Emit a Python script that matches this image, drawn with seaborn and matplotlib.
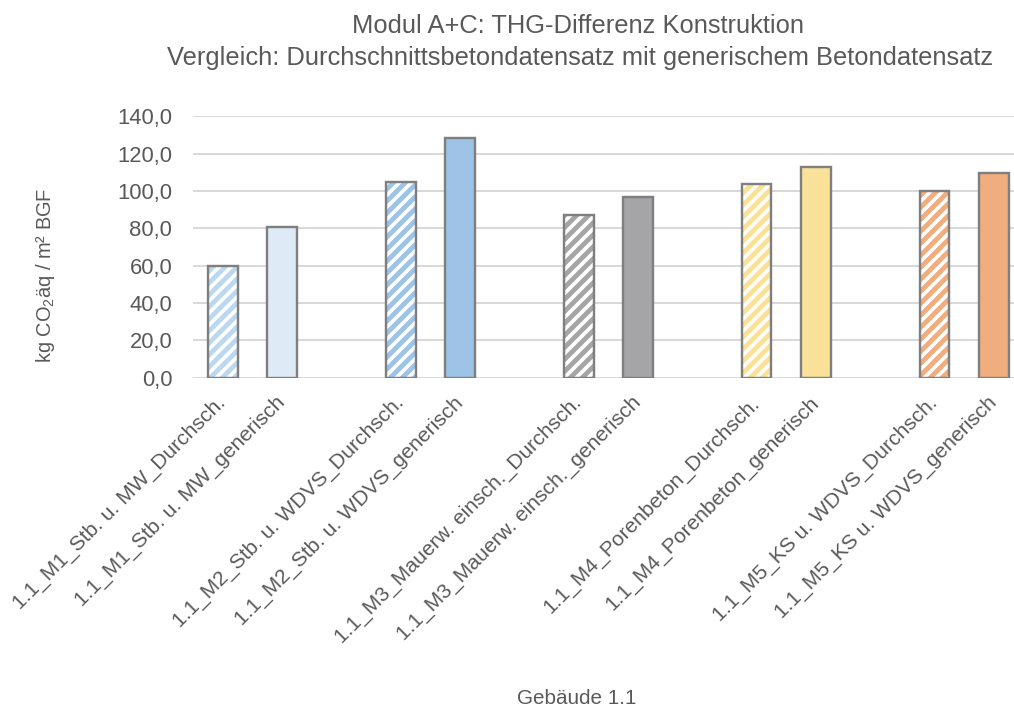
import numpy as np
import pandas as pd
import matplotlib
matplotlib.use("Agg")
import matplotlib.pyplot as plt
import seaborn as sns

# Werte (kg CO2äq / m² BGF)
labels = [
    "1.1_M1_Stb. u. MW_Durchsch.", "1.1_M1_Stb. u. MW_generisch",
    "1.1_M2_Stb. u. WDVS_Durchsch.", "1.1_M2_Stb. u. WDVS_generisch",
    "1.1_M3_Mauerw. einsch._Durchsch.", "1.1_M3_Mauerw. einsch._generisch",
    "1.1_M4_Porenbeton_Durchsch.", "1.1_M4_Porenbeton_generisch",
    "1.1_M5_KS u. WDVS_Durchsch.", "1.1_M5_KS u. WDVS_generisch",
]
values = [60.0, 80.7, 104.8, 128.3, 87.1, 96.9, 103.7, 113.1, 100.1, 109.8]
colors = ["#BDD7EE", "#DEEBF7", "#9DC3E6", "#9DC3E6", "#A5A5A7",
          "#A5A5A7", "#F9E199", "#F9E199", "#F0AD7E", "#F0AD7E"]
hatched = [True, False] * 5
yticks = [0, 20, 40, 60, 80, 100, 120, 140]

# 5 Gruppen à 2 Balken, dazwischen eine Lücke
pos = [3 * (i // 2) + i % 2 for i in range(len(values))]
df = pd.DataFrame({"pos": pos, "wert": values, "label": labels})

sns.set_style("white")
plt.rcParams["font.family"] = ["Liberation Sans", "DejaVu Sans"]
plt.rcParams["mathtext.default"] = "regular"
plt.rcParams["hatch.linewidth"] = 2.4
txt = "#595959"

fig = plt.figure(figsize=(1014 / 144, 708 / 144), dpi=144)
ax = fig.add_axes([193.3 / 1014, 1 - 377.7 / 708, (1014 - 193.3) / 1014, (377.7 - 116.3) / 708])

sns.barplot(data=df, x="pos", y="wert", hue="label", palette=colors, native_scale=True,
            width=0.5, dodge=False, legend=False, saturation=1, errorbar=None,
            linewidth=0, ax=ax, zorder=2)

# schraffierte Balken: weiß mit farbigen Streifen
for i, cont in enumerate(ax.containers):
    if hatched[i]:
        for bar in cont:
            bar.set_facecolor("white")
            bar.set_edgecolor(colors[i])
            bar.set_hatch("////")
            bar.set_linewidth(0)

# graue Umrandung
sns.barplot(data=df, x="pos", y="wert", native_scale=True, width=0.5, fill=False,
            color="#7F7F7F", linewidth=1.2, errorbar=None, ax=ax, zorder=3)

ax.set_xlim(-0.5, -0.5 + (1014 - 193.3) / 59.3)
ax.set_ylim(0, 140)
ax.set_yticks(yticks)
ax.set_yticklabels([f"{v:.1f}".replace(".", ",") for v in yticks], fontsize=11, color=txt)
ax.set_xticks(pos)
ax.set_xticklabels(labels, rotation=45, ha="right", va="center",
                   rotation_mode="anchor", fontsize=10.5, color=txt)
ax.tick_params(axis="x", length=0, pad=11)
ax.tick_params(axis="y", length=0, pad=10.5)
ax.grid(axis="y", color="#D9D9D9", linewidth=1.0, zorder=0)
ax.set_axisbelow(True)
sns.despine(ax=ax, left=True, bottom=True)
ax.set_xlabel("")
ax.set_ylabel("")

fig.text(578 / 1014, 1 - 33 / 708, "Modul A+C: THG-Differenz Konstruktion",
         ha="center", va="baseline", fontsize=12.75, color=txt)
fig.text(580 / 1014, 1 - 65 / 708,
         "Vergleich: Durchschnittsbetondatensatz mit generischem Betondatensatz",
         ha="center", va="baseline", fontsize=12.75, color=txt)
fig.text(46 / 1014, 1 - 275 / 708, "kg CO$_2$äq / m² BGF", rotation=90,
         ha="center", va="center", fontsize=10, color=txt)
fig.text(577 / 1014, 1 - 698 / 708, "Gebäude 1.1", ha="center", va="center",
         fontsize=10.3, color=txt)

fig.savefig("out.png", dpi=144)
